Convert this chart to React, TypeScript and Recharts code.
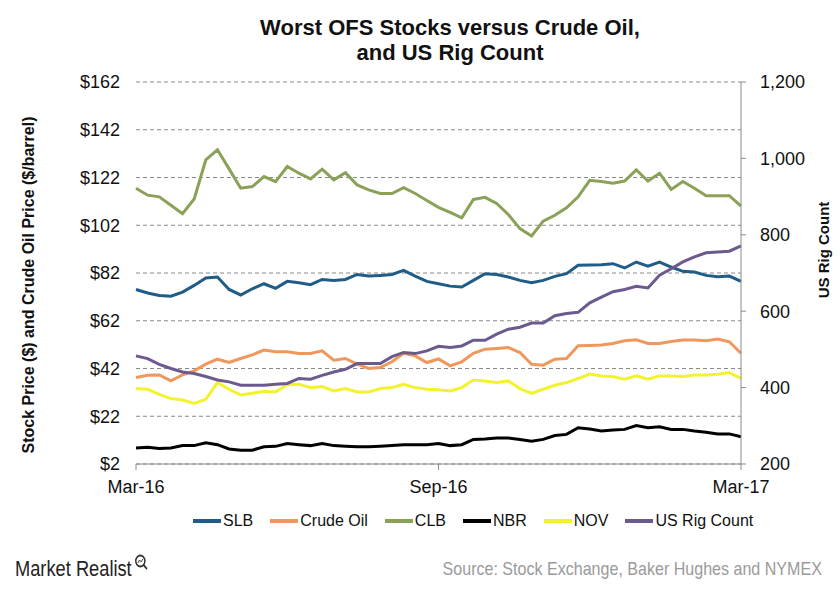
import React from 'react';
import {
  LineChart,
  Line,
  XAxis,
  YAxis,
  CartesianGrid,
} from 'recharts';

// weekly closes, Mar-16 .. Mar-17
const weeks = Array.from({ length: 53 }, (_, i) =>
  new Date(Date.UTC(2016, 2, 4 + 7 * i)).toISOString().slice(0, 10)
);

const slb = [
  75.1, 73.6, 72.6, 72.3, 74.0, 76.8, 79.9, 80.3, 75.1, 72.8, 75.4, 77.5, 75.6, 78.5,
  77.9, 77.1, 79.3, 78.9, 79.3, 81.4, 80.7, 81.0, 81.4, 83.1, 80.7, 78.5, 77.5,
  76.5, 76.1, 78.9, 81.7, 81.4, 80.3, 78.9, 77.9, 78.9, 80.6, 81.7, 85.2, 85.3,
  85.5, 85.9, 84.1, 86.6, 84.9, 86.6, 84.5, 82.7, 82.4, 81.0, 80.4, 80.7, 78.5,
];
const crudeOil = [
  38.2, 39.2, 39.3, 36.8, 39.3, 41.0, 43.8, 45.9, 44.5, 46.2, 47.7, 49.7, 49.0, 49.0,
  48.3, 48.3, 49.4, 45.5, 46.2, 43.8, 42.0, 42.4, 44.8, 48.4, 47.3, 44.5, 46.0,
  43.1, 44.8, 48.4, 50.1, 50.4, 50.8, 48.7, 43.8, 43.4, 45.9, 46.2, 51.5, 51.6,
  51.8, 52.5, 53.6, 54.0, 52.5, 52.5, 53.3, 53.9, 53.9, 53.6, 54.3, 53.2, 48.4,
];
const clb = [
  117.5, 114.6, 113.9, 110.4, 106.8, 113.0, 129.4, 133.6, 125.6, 117.5, 118.2, 122.4, 120.3, 126.6,
  123.8, 121.4, 125.5, 121.0, 124.0, 118.9, 116.8, 115.3, 115.3, 117.7, 115.3, 112.4, 109.5,
  107.4, 105.1, 112.8, 113.7, 111.1, 106.5, 100.6, 97.5, 103.7, 106.2, 109.3, 113.9, 120.8,
  120.3, 119.6, 120.5, 125.2, 120.5, 123.8, 117.0, 120.3, 117.5, 114.4, 114.4, 114.4, 110.0,
];
const nbr = [
  8.7, 9.0, 8.5, 8.7, 9.7, 9.7, 10.9, 10.1, 8.3, 7.8, 7.8, 9.2, 9.4, 10.6,
  10.1, 9.7, 10.6, 9.7, 9.4, 9.2, 9.2, 9.4, 9.7, 10.1, 10.1, 10.1, 10.6,
  9.7, 10.1, 12.3, 12.5, 12.9, 12.9, 12.3, 11.5, 12.3, 13.9, 14.4, 17.2, 16.7,
  15.8, 16.2, 16.5, 18.1, 17.2, 17.6, 16.5, 16.5, 15.8, 15.3, 14.6, 14.6, 13.4,
];
const nov = [
  33.6, 33.3, 31.2, 29.4, 28.8, 27.4, 29.1, 36.1, 33.3, 30.9, 31.6, 32.5, 32.2, 35.2,
  35.4, 34.0, 34.4, 32.6, 33.6, 32.2, 32.2, 33.6, 34.0, 35.4, 34.0, 33.3, 33.1,
  32.6, 34.0, 37.2, 36.8, 36.1, 36.8, 33.6, 31.6, 33.3, 35.0, 36.1, 37.8, 39.7,
  38.9, 38.6, 37.5, 38.9, 37.5, 38.9, 38.9, 38.6, 39.3, 39.3, 39.6, 40.3, 37.8,
];
const rigCount = [
  483, 476, 461, 450, 441, 437, 429, 420, 415, 406, 406, 406, 409, 411,
  424, 422, 432, 441, 448, 463, 463, 463, 481, 492, 489, 496, 508,
  505, 509, 524, 524, 540, 553, 558, 569, 569, 588, 594, 597, 622,
  637, 651, 657, 665, 661, 694, 711, 729, 742, 753, 755, 757, 771,
];

const priceTicks = [2, 22, 42, 62, 82, 102, 122, 142, 162];
const rigTicks = [200, 400, 600, 800, 1000, 1200];
const months = ['Jan', 'Feb', 'Mar', 'Apr', 'May', 'Jun', 'Jul', 'Aug', 'Sep', 'Oct', 'Nov', 'Dec'];

const series = [
  { key: 'slb', name: 'SLB', color: '#1F5C87', axis: 'left' },
  { key: 'crude', name: 'Crude Oil', color: '#F0975C', axis: 'left' },
  { key: 'clb', name: 'CLB', color: '#8BA158', axis: 'left' },
  { key: 'nbr', name: 'NBR', color: '#000000', axis: 'left' },
  { key: 'nov', name: 'NOV', color: '#F3F22E', axis: 'left' },
  { key: 'rig', name: 'US Rig Count', color: '#6C5A8E', axis: 'right' },
];

const data = weeks.map((week, i) => ({
  week,
  slb: slb[i],
  crude: crudeOil[i],
  clb: clb[i],
  nbr: nbr[i],
  nov: nov[i],
  rig: rigCount[i],
}));

const FONT = "'Liberation Sans', Arial, sans-serif";

const fmtWeek = (w: string) => {
  const d = new Date(w + 'T00:00:00Z');
  return `${months[d.getUTCMonth()]}-${String(d.getUTCFullYear()).slice(2)}`;
};

export default function App() {
  return (
    <div
      style={{
        position: 'absolute',
        left: 0,
        top: 0,
        width: 840,
        height: 600,
        background: '#fff',
        fontFamily: FONT,
        overflow: 'hidden',
      }}
    >
      <div
        style={{
          position: 'absolute',
          top: 15,
          left: 200,
          width: 500,
          textAlign: 'center',
          fontWeight: 'bold',
          fontSize: 22,
          lineHeight: '25px',
          color: '#111',
        }}
      >
        Worst OFS Stocks versus Crude Oil,
        <br />
        and US Rig Count
      </div>

      <LineChart
        width={840}
        height={600}
        data={data}
        margin={{ top: 82, right: 0, left: 0, bottom: 106 }}
      >
        <CartesianGrid
          yAxisId="left"
          vertical={false}
          stroke="#8a8a8a"
          strokeDasharray="4 3"
        />
        <XAxis
          dataKey="week"
          interval={25}
          tickFormatter={fmtWeek}
          height={30}
          stroke="#8a8a8a"
          tickSize={6}
          tickMargin={10}
          tick={{ fill: '#111', fontSize: 18, fontFamily: FONT }}
        />
        <YAxis
          yAxisId="left"
          domain={[2, 162]}
          ticks={priceTicks}
          width={136}
          axisLine={false}
          tickLine={false}
          tickSize={0}
          tickMargin={16}
          tickFormatter={(v: number) => `$${v}`}
          tick={{ fill: '#111', fontSize: 18, fontFamily: FONT }}
        />
        <YAxis
          yAxisId="right"
          orientation="right"
          domain={[200, 1200]}
          ticks={rigTicks}
          width={99}
          stroke="#8a8a8a"
          tickSize={5}
          tickMargin={14}
          tickFormatter={(v: number) => v.toLocaleString('en-US')}
          tick={{ fill: '#111', fontSize: 18, fontFamily: FONT }}
        />
        {series.map((s) => (
          <Line
            key={s.key}
            yAxisId={s.axis}
            dataKey={s.key}
            name={s.name}
            stroke={s.color}
            strokeWidth={3}
            dot={false}
            type="linear"
            isAnimationActive={false}
          />
        ))}
      </LineChart>

      <div
        style={{
          position: 'absolute',
          left: 29,
          top: 285,
          transform: 'translate(-50%, -50%) rotate(-90deg)',
          whiteSpace: 'nowrap',
          fontWeight: 'bold',
          fontSize: 16,
          color: '#111',
        }}
      >
        Stock Price ($) and Crude Oil Price ($/barrel)
      </div>
      <div
        style={{
          position: 'absolute',
          left: 823,
          top: 250,
          transform: 'translate(-50%, -50%) rotate(-90deg)',
          whiteSpace: 'nowrap',
          fontWeight: 'bold',
          fontSize: 15,
          color: '#111',
        }}
      >
        US Rig Count
      </div>

      {/* legend */}
      <div
        style={{
          position: 'absolute',
          top: 512,
          left: 193,
          display: 'flex',
          alignItems: 'center',
          gap: 17,
          fontSize: 16,
          color: '#111',
        }}
      >
        {series.map((s) => (
          <div key={s.key} style={{ display: 'flex', alignItems: 'center' }}>
            <span
              style={{
                display: 'inline-block',
                width: 28,
                height: 4,
                background: s.color,
                marginRight: 2,
              }}
            />
            {s.name}
          </div>
        ))}
      </div>

      {/* footer */}
      <div
        style={{
          position: 'absolute',
          left: 15,
          top: 556,
          fontSize: 22,
          color: '#222',
          display: 'flex',
          alignItems: 'flex-start',
          transform: 'scaleX(0.83)',
          transformOrigin: 'left top',
        }}
      >
        Market Realist
        <svg width={18} height={18} style={{ marginLeft: 1, marginTop: -3 }}>
          <circle cx={9} cy={8} r={5.5} fill="none" stroke="#333" strokeWidth={1.8} />
          <line x1={12.5} y1={11.5} x2={17} y2={16} stroke="#333" strokeWidth={2} />
          <path d="M6 10 L8 7 L10 9 L12 6" fill="none" stroke="#333" strokeWidth={1} />
        </svg>
      </div>
      <div
        style={{
          position: 'absolute',
          right: 18,
          top: 558,
          fontSize: 19,
          color: '#9a9a9a',
          whiteSpace: 'nowrap',
          transform: 'scaleX(0.845)',
          transformOrigin: 'right top',
        }}
      >
        Source: Stock Exchange, Baker Hughes and NYMEX
      </div>
    </div>
  );
}
